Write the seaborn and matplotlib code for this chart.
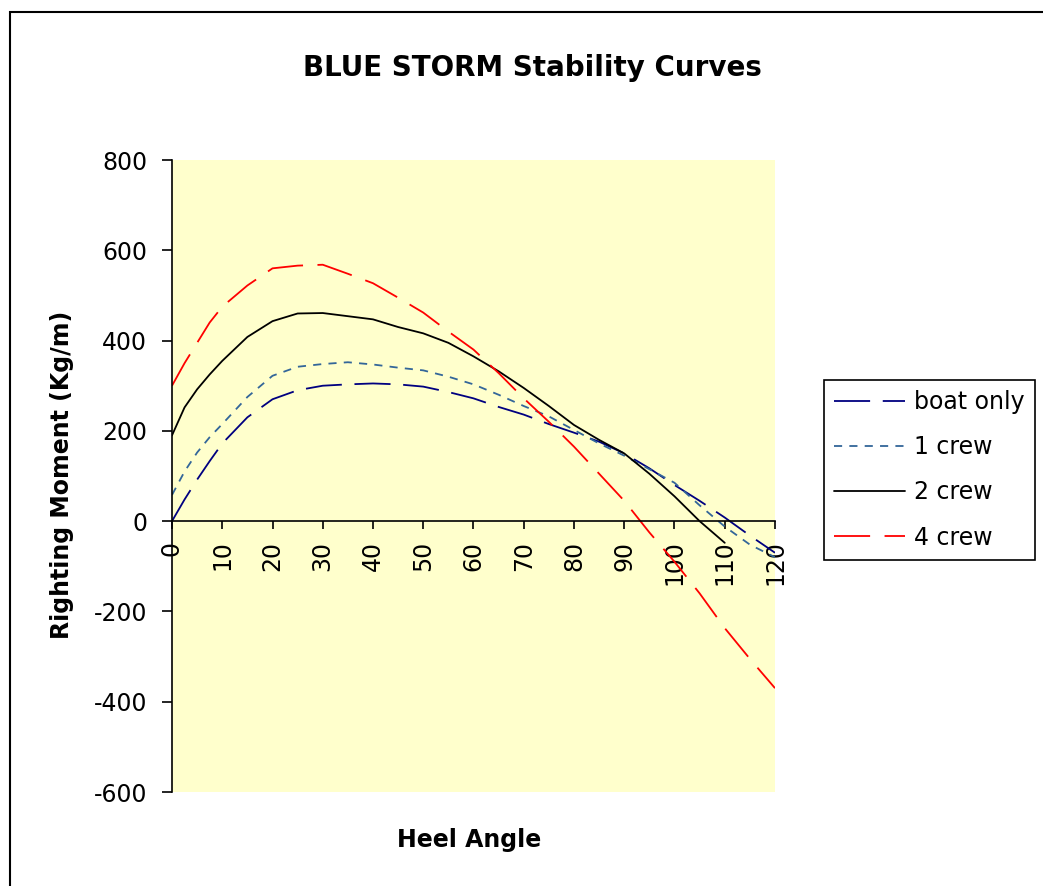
import matplotlib
matplotlib.use("Agg")
import matplotlib.pyplot as plt
from matplotlib.patches import Rectangle
import seaborn as sns
import pandas as pd

# heel angle (deg) and righting moment for each load case
heel = [0, 2.5, 5, 7.5, 10, 15, 20, 25, 30, 35, 40, 45, 50, 55, 60,
        65, 70, 75, 80, 85, 90, 95, 100, 105, 110, 115, 120]
boat_only = [0, 48, 92, 133, 172, 230, 270, 290, 300, 303, 305, 303, 298, 286, 272,
             253, 236, 215, 196, 176, 150, 117, 80, 45, 8, -32, -70]
crew_1 = [58, 110, 152, 186, 215, 275, 322, 342, 348, 352, 347, 340, 334, 320, 303,
          280, 255, 232, 202, 172, 145, 115, 85, 35, -12, -52, -80]
crew_2 = [190, 252, 292, 325, 355, 408, 443, 460, 461, 454, 447, 430, 416, 395, 365,
          332, 295, 255, 213, 180, 150, 105, 55, 0, -48, None, None]
crew_4 = [300, 350, 395, 440, 475, 522, 560, 566, 568, 548, 527, 495, 462, 420, 380,
          328, 272, 220, 165, 105, 45, -25, -90, -160, -237, -305, -370]

series = {"boat only": boat_only, "1 crew": crew_1, "2 crew": crew_2, "4 crew": crew_4}
colors = {"boat only": "#000080", "1 crew": "#336699", "2 crew": "black", "4 crew": "#FF0000"}
styles = {"boat only": (0, (20, 7)), "1 crew": (0, (4.5, 4)), "2 crew": "-", "4 crew": (0, (20, 8))}

sns.set_style("white")
plt.rcParams["font.family"] = ["DejaVu Sans"]
plt.rcParams["axes.unicode_minus"] = False
plt.rcParams["text.color"] = "black"

fig = plt.figure(figsize=(10.43, 8.86), dpi=100)
ax = fig.add_axes([172 / 1043, 1 - 792 / 886, 603 / 1043, 632 / 886])
ax.set_facecolor("#FFFFCC")

for name, vals in series.items():
    df = pd.DataFrame({"heel": heel, "moment": vals}).dropna()
    sns.lineplot(data=df, x="heel", y="moment", ax=ax, color=colors[name],
                 linestyle=styles[name], linewidth=1.3, label=name)

ax.set_xlim(0, 120)
ax.set_ylim(-600, 800)
ax.set_xticks(range(0, 121, 10))
ax.set_yticks(range(-600, 801, 200))
ax.set_xlabel("")
ax.set_ylabel("")

for s in ["top", "right"]:
    ax.spines[s].set_visible(False)
ax.spines["bottom"].set_position(("data", 0))
ax.spines["left"].set_color("black")
ax.spines["bottom"].set_color("black")
ax.spines["left"].set_linewidth(1.2)
ax.spines["bottom"].set_linewidth(1.2)

ax.tick_params(axis="y", direction="out", length=7, width=1.2, pad=11,
               labelsize=17, left=True, colors="black")
ax.tick_params(axis="x", direction="out", length=6, width=1.2, pad=8,
               labelsize=17, bottom=True, colors="black", labelrotation=90)
for lab in ax.get_xticklabels():
    lab.set_va("top")
    lab.set_ha("center")

fig.text(532 / 1043, 1 - 68 / 886, "BLUE STORM Stability Curves",
         ha="center", va="center", fontsize=20, fontweight="bold", color="black")
fig.text(62 / 1043, 1 - 475 / 886, "Righting Moment (Kg/m)", rotation=90,
         ha="center", va="center", fontsize=17, fontweight="bold", color="black")
fig.text(469 / 1043, 1 - 840 / 886, "Heel Angle",
         ha="center", va="center", fontsize=17, fontweight="bold", color="black")

leg = ax.legend(loc="upper left", bbox_to_anchor=(824 / 1043, 1 - 380 / 886),
                bbox_transform=fig.transFigure, borderaxespad=0, fontsize=17,
                handlelength=3.0, handletextpad=0.4, labelspacing=0.9,
                borderpad=0.42, fancybox=False, framealpha=1)
leg.get_frame().set_edgecolor("black")
leg.get_frame().set_linewidth(1.2)
for t in leg.get_texts():
    t.set_color("black")

fig.add_artist(Rectangle((10 / 1043, -0.1), 1.2, 1 - 12 / 886 + 0.1,
                         transform=fig.transFigure, fill=False,
                         edgecolor="black", linewidth=1.5))

fig.savefig("out.png", dpi=100)
